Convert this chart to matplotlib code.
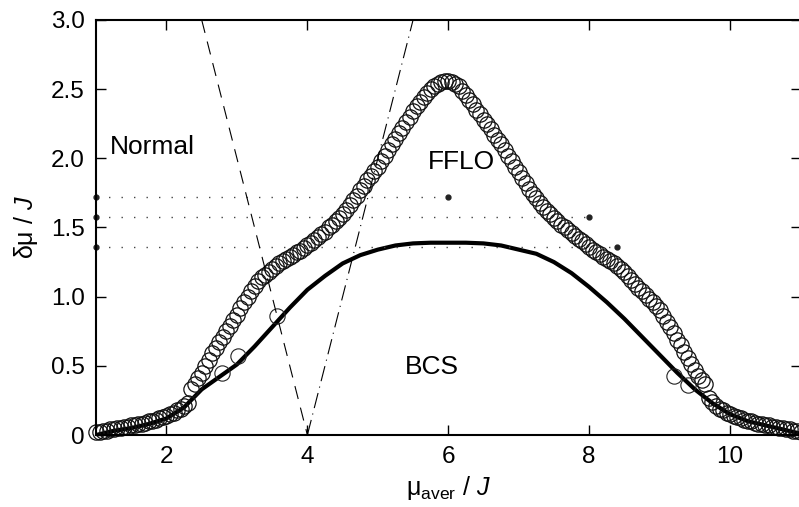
import matplotlib
matplotlib.use('Agg')
import matplotlib.pyplot as plt

plt.rcParams['font.family'] = ['Liberation Sans', 'DejaVu Sans']
plt.rcParams['mathtext.fontset'] = 'custom'
plt.rcParams['mathtext.rm'] = 'Liberation Sans'
plt.rcParams['mathtext.it'] = 'Liberation Sans:italic'

# FFLO / normal boundary (open circles)
fflo_x = [2.35, 2.40, 2.45, 2.50, 2.55, 2.60, 2.65, 2.70, 2.75, 2.80, 2.85, 2.90, 2.95,
          3.00, 3.05, 3.10, 3.15, 3.20, 3.25, 3.30, 3.35, 3.40, 3.45, 3.50, 3.55, 3.60,
          3.65, 3.70, 3.75, 3.80, 3.85, 3.90, 3.95, 4.00, 4.05, 4.10, 4.15, 4.20, 4.25,
          4.30, 4.35, 4.40, 4.45, 4.50, 4.55, 4.60, 4.65, 4.70, 4.75, 4.80, 4.85, 4.90,
          4.95, 5.00, 5.05, 5.10, 5.15, 5.20, 5.25, 5.30, 5.35, 5.40, 5.45, 5.50, 5.55,
          5.60, 5.65, 5.70, 5.75, 5.80, 5.85, 5.90, 5.95, 6.00,
          6.05, 6.10, 6.15, 6.20, 6.25, 6.30, 6.35, 6.40, 6.45, 6.50, 6.55, 6.60, 6.65,
          6.70, 6.75, 6.80, 6.85, 6.90, 6.95, 7.00, 7.05, 7.10, 7.15, 7.20, 7.25, 7.30,
          7.35, 7.40, 7.45, 7.50, 7.55, 7.60, 7.65, 7.70, 7.75, 7.80, 7.85, 7.90, 7.95,
          8.00, 8.05, 8.10, 8.15, 8.20, 8.25, 8.30, 8.35, 8.40, 8.45, 8.50, 8.55, 8.60,
          8.65, 8.70, 8.75, 8.80, 8.85, 8.90, 8.95, 9.00, 9.05, 9.10, 9.15, 9.20, 9.25,
          9.30, 9.35, 9.40, 9.45, 9.50, 9.55, 9.60, 9.65]
fflo_y = [0.33, 0.37, 0.41, 0.45, 0.50, 0.54, 0.59, 0.63, 0.67, 0.71, 0.75, 0.79, 0.83,
          0.87, 0.92, 0.96, 1.00, 1.04, 1.08, 1.11, 1.14, 1.16, 1.18, 1.20, 1.22, 1.24,
          1.26, 1.27, 1.29, 1.30, 1.32, 1.33, 1.35, 1.37, 1.39, 1.41, 1.43, 1.45, 1.47,
          1.50, 1.52, 1.55, 1.57, 1.60, 1.63, 1.66, 1.70, 1.73, 1.77, 1.80, 1.84, 1.87,
          1.91, 1.94, 1.98, 2.02, 2.06, 2.10, 2.14, 2.18, 2.22, 2.26, 2.30, 2.34, 2.38,
          2.41, 2.44, 2.47, 2.50, 2.52, 2.54, 2.55, 2.56, 2.56,
          2.55, 2.54, 2.52, 2.49, 2.46, 2.42, 2.39, 2.35, 2.32, 2.28, 2.25, 2.21, 2.17,
          2.13, 2.10, 2.06, 2.02, 1.98, 1.94, 1.90, 1.86, 1.82, 1.78, 1.74, 1.71, 1.68,
          1.65, 1.62, 1.60, 1.57, 1.55, 1.52, 1.50, 1.48, 1.46, 1.44, 1.42, 1.40, 1.38,
          1.36, 1.34, 1.32, 1.31, 1.29, 1.27, 1.26, 1.24, 1.22, 1.20, 1.18, 1.15, 1.12,
          1.09, 1.06, 1.04, 1.01, 0.98, 0.96, 0.93, 0.90, 0.86, 0.82, 0.78, 0.74, 0.69,
          0.65, 0.60, 0.56, 0.51, 0.47, 0.43, 0.40, 0.37]

# circles on the low tails
tail_x = [1.00, 1.05, 1.10, 1.15, 1.20, 1.25, 1.30, 1.35, 1.40, 1.45, 1.50, 1.55, 1.60, 1.65,
          1.70, 1.75, 1.80, 1.85, 1.90, 1.95, 2.00, 2.05, 2.10, 2.15, 2.20, 2.25, 2.30,
          9.70, 9.75, 9.80, 9.85, 9.90, 9.95, 10.00, 10.05, 10.10, 10.15, 10.20, 10.25, 10.30,
          10.35, 10.40, 10.45, 10.50, 10.55, 10.60, 10.65, 10.70, 10.75, 10.80, 10.85, 10.90,
          10.95, 11.00]
tail_y = [0.02, 0.02, 0.03, 0.03, 0.04, 0.04, 0.05, 0.05, 0.06, 0.06, 0.07, 0.07, 0.08, 0.08,
          0.09, 0.10, 0.10, 0.11, 0.12, 0.13, 0.14, 0.15, 0.16, 0.18, 0.19, 0.21, 0.23,
          0.27, 0.24, 0.21, 0.19, 0.18, 0.16, 0.15, 0.14, 0.13, 0.12, 0.11, 0.10, 0.10,
          0.09, 0.08, 0.08, 0.07, 0.07, 0.06, 0.06, 0.05, 0.05, 0.04, 0.04, 0.03,
          0.03, 0.02]

# stray circles sitting on the BCS line
stray_x = [2.79, 3.01, 3.57, 9.21, 9.40]
stray_y = [0.45, 0.57, 0.86, 0.43, 0.36]

# BCS boundary (thick line)
bcs_x = [1.0, 1.25, 1.5, 1.75, 2.0, 2.25, 2.5, 2.75, 3.0, 3.25, 3.5, 3.75, 4.0, 4.25, 4.5,
         4.75, 5.0, 5.25, 5.5, 5.75, 6.0, 6.25, 6.5, 6.75, 7.0, 7.25, 7.5, 7.75, 8.0, 8.25,
         8.5, 8.75, 9.0, 9.25, 9.5, 9.75, 10.0, 10.25, 10.5, 10.75, 11.0]
bcs_y = [0.00, 0.03, 0.05, 0.08, 0.12, 0.20, 0.33, 0.42, 0.51, 0.64, 0.78, 0.92, 1.05, 1.15, 1.24,
         1.30, 1.34, 1.37, 1.385, 1.39, 1.39, 1.39, 1.385, 1.37, 1.34, 1.31, 1.25, 1.17, 1.07, 0.96,
         0.84, 0.71, 0.58, 0.45, 0.33, 0.23, 0.15, 0.10, 0.07, 0.04, 0.01]

# dotted reference levels and where they end
level_y = [1.72, 1.575, 1.36]
level_end = [6.0, 8.0, 8.4]

# straight guide lines
dash_x = [2.5, 4.0]
dash_y = [3.0, 0.0]
dashdot_x = [4.0, 5.5]
dashdot_y = [0.0, 3.0]

fig = plt.figure(figsize=(7.99, 5.07), dpi=100)
ax = fig.add_axes([0.1202, 0.142, 0.8817, 0.8186])

ax.plot(bcs_x, bcs_y, color='black', lw=3.0, solid_capstyle='round')
ax.plot(fflo_x, fflo_y, 'o', mfc='none', mec='#111111', ms=11, mew=0.9)
ax.plot(tail_x, tail_y, 'o', mfc='none', mec='#111111', ms=11, mew=0.9, clip_on=False)
ax.plot(stray_x, stray_y, 'o', mfc='none', mec='#222222', ms=11, mew=0.8)

for y, xe in zip(level_y, level_end):
    ax.plot([1.0, xe], [y, y], color='#444444', lw=1.0, linestyle=(0, (1, 8)))
    ax.plot([1.0, xe], [y, y], 'o', color='#222222', ms=3.5, ls='none', clip_on=False)

ax.plot(dash_x, dash_y, color='black', lw=0.8, linestyle=(0, (12, 8)))
ax.plot(dashdot_x, dashdot_y, color='black', lw=0.8, linestyle=(0, (14, 5, 1, 5)))

ax.text(1.2, 2.08, 'Normal', fontsize=19, va='center', ha='left')
ax.text(5.71, 1.97, 'FFLO', fontsize=19, va='center', ha='left')
ax.text(5.77, 0.49, 'BCS', fontsize=19, va='center', ha='center')

ax.set_xlim(1, 11)
ax.set_ylim(0, 3.0)
ax.set_xticks([2, 4, 6, 8, 10])
ax.set_yticks([0, 0.5, 1.0, 1.5, 2.0, 2.5, 3.0])
ax.set_yticklabels(['0', '0.5', '1.0', '1.5', '2.0', '2.5', '3.0'])
ax.tick_params(direction='in', length=7, width=1, labelsize=17.5, top=True, right=True, pad=8)
for s in ax.spines.values():
    s.set_linewidth(1.5)

ax.set_xlabel(r'$\mathrm{μ}_{\mathrm{aver}}$ / $\mathit{J}$', fontsize=18, labelpad=4)
ax.set_ylabel(r'$\mathrm{δμ}$ / $\mathit{J}$', fontsize=18, labelpad=8)

fig.savefig('out.png', dpi=100)
